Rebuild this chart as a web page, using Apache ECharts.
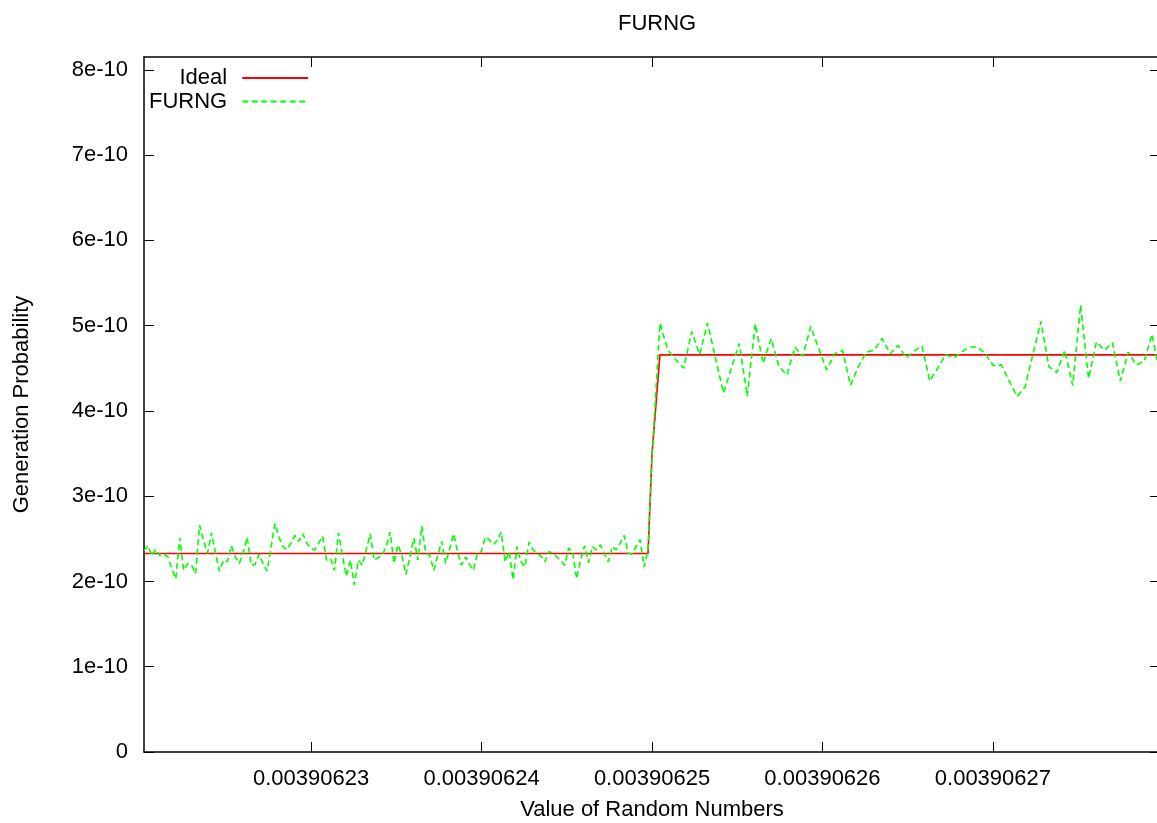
<!DOCTYPE html>
<html><head><meta charset="utf-8">
<script src="https://cdn.jsdelivr.net/npm/echarts@6/dist/echarts.min.js"></script>
<style>html,body{margin:0;padding:0;background:#fff}#c{width:1157px;height:823px}</style>
</head><body><div id="c"></div>
<script>
// ---------- data ----------
const chartTitle = 'FURNG';
const xAxisTitle = 'Value of Random Numbers';
const yAxisTitle = 'Generation Probability';
const seriesNames = ['Ideal', 'FURNG'];
const xTickValues = [0.00390623, 0.00390624, 0.00390625, 0.00390626, 0.00390627];
const yTickValues = [0, 1e-10, 2e-10, 3e-10, 4e-10, 5e-10, 6e-10, 7e-10, 8e-10];
const Y_UNIT = 1e-10;            // values below are in units of 1e-10
const Y_MAX = 8.15e-10;

// float32 grid around 1/256: below it the spacing is 2^-32, above it 2^-31
const CENTER = 1 / 256;
const ULP_LOW = Math.pow(2, -32);
const ULP_HIGH = Math.pow(2, -31);

// FURNG measured probabilities (x1e-10), 128 points below 1/256
const furngLow = [
  2.36, 2.42, 2.30, 2.38, 2.30, 2.32, 2.29, 2.15, 2.03, 2.51,
  2.13, 2.21, 2.19, 2.09, 2.66, 2.48, 2.33, 2.57, 2.34, 2.12,
  2.25, 2.23, 2.42, 2.29, 2.21, 2.34, 2.52, 2.19, 2.20, 2.32,
  2.21, 2.12, 2.40, 2.68, 2.52, 2.41, 2.37, 2.45, 2.54, 2.47,
  2.56, 2.45, 2.39, 2.37, 2.45, 2.53, 2.25, 2.27, 2.13, 2.57,
  2.30, 2.06, 2.25, 1.96, 2.25, 2.19, 2.37, 2.56, 2.25, 2.28,
  2.31, 2.40, 2.58, 2.21, 2.43, 2.30, 2.08, 2.29, 2.51, 2.25,
  2.65, 2.33, 2.31, 2.13, 2.30, 2.47, 2.21, 2.38, 2.56, 2.35,
  2.19, 2.29, 2.20, 2.13, 2.33, 2.35, 2.52, 2.49, 2.43, 2.48,
  2.58, 2.23, 2.35, 2.02, 2.41, 2.23, 2.17, 2.46, 2.37, 2.33,
  2.30, 2.23, 2.35, 2.33, 2.29, 2.24, 2.19, 2.39, 2.35, 2.03,
  2.25, 2.42, 2.22, 2.41, 2.37, 2.43, 2.33, 2.23, 2.41, 2.37,
  2.45, 2.54, 2.33, 2.32, 2.41, 2.49, 2.17, 2.37
];
// value at exactly 1/256
const furngCenter = 3.45;
// 64 points above 1/256
const furngHigh = [
  5.03, 4.71, 4.60, 4.50, 4.93, 4.66, 5.03, 4.62, 4.21, 4.50,
  4.79, 4.17, 5.02, 4.56, 4.85, 4.52, 4.42, 4.75, 4.64, 4.99,
  4.73, 4.48, 4.67, 4.71, 4.30, 4.52, 4.69, 4.71, 4.85, 4.67,
  4.77, 4.62, 4.70, 4.76, 4.35, 4.50, 4.66, 4.62, 4.69, 4.75,
  4.75, 4.67, 4.53, 4.54, 4.35, 4.17, 4.28, 4.67, 5.05, 4.52,
  4.45, 4.71, 4.30, 5.24, 4.38, 4.81, 4.71, 4.80, 4.35, 4.69,
  4.54, 4.58, 4.90, 4.40
];

// Ideal: break points only
const idealX = [
  CENTER - 128 * ULP_LOW, CENTER - ULP_LOW, CENTER, CENTER + ULP_HIGH, CENTER + 64 * ULP_HIGH
];
const idealY = [2.328, 2.328, 3.492, 4.657, 4.657];

// ---------- build ----------
const furngData = [];
furngLow.forEach((v, k) => furngData.push([CENTER - (furngLow.length - k) * ULP_LOW, v * Y_UNIT]));
furngData.push([CENTER, furngCenter * Y_UNIT]);
furngHigh.forEach((v, i) => furngData.push([CENTER + (i + 1) * ULP_HIGH, v * Y_UNIT]));
const idealData = idealX.map((x, i) => [x, idealY[i] * Y_UNIT]);

const X_MIN = idealX[0], X_MAX = idealX[idealX.length - 1];
const FONT = 'Liberation Sans';
const FS = 22;

const chart = echarts.init(document.getElementById('c'), null, {renderer: 'canvas'});
const axisLine = {show: true, onZero: false, lineStyle: {color: '#000', width: 1.5}};
const tickStyle = {color: '#000', width: 1};

chart.setOption({
  animation: false,
  backgroundColor: '#fff',
  textStyle: {fontFamily: FONT},
  title: {
    text: chartTitle, left: 613, top: 8,
    textStyle: {fontFamily: FONT, fontSize: FS, fontWeight: 'normal', color: '#000'}
  },
  legend: {
    data: seriesNames,
    orient: 'vertical',
    align: 'right',
    left: 149, top: 67,
    padding: 0,
    itemGap: 1.5,
    itemWidth: 66, itemHeight: 14,
    itemStyle: {opacity: 0},
    textStyle: {fontFamily: FONT, fontSize: FS, color: '#000', padding: [0, 10, 0, 0]}
  },
  grid: {left: 144, top: 57, right: -3, bottom: 71, outerBoundsMode: 'none', containLabel: false},
  xAxis: [{
    type: 'value', min: X_MIN, max: X_MAX, position: 'bottom',
    name: xAxisTitle, nameLocation: 'middle', nameGap: 47,
    nameTextStyle: {fontFamily: FONT, fontSize: FS, color: '#000'},
    axisLine: axisLine,
    axisTick: {show: true, inside: true, length: 10, lineStyle: tickStyle, customValues: xTickValues},
    axisLabel: {show: true, margin: 16, fontFamily: FONT, fontSize: FS, color: '#000',
      customValues: xTickValues, formatter: v => v.toFixed(8)},
    splitLine: {show: false}
  }, {
    type: 'value', min: X_MIN, max: X_MAX, position: 'top',
    axisLine: axisLine,
    axisTick: {show: true, inside: true, length: 10, lineStyle: tickStyle, customValues: xTickValues},
    axisLabel: {show: false},
    splitLine: {show: false}
  }],
  yAxis: [{
    type: 'value', min: 0, max: Y_MAX, position: 'left',
    name: yAxisTitle, nameLocation: 'middle', nameGap: 111,
    nameTextStyle: {fontFamily: FONT, fontSize: FS, color: '#000'},
    axisLine: axisLine,
    axisTick: {show: true, inside: true, length: 10, lineStyle: tickStyle, customValues: yTickValues},
    axisLabel: {show: true, margin: 16, fontFamily: FONT, fontSize: FS, color: '#000',
      customValues: yTickValues,
      formatter: v => (Math.abs(v) < 1e-20 ? '0' : Math.round(v / Y_UNIT) + 'e-10')},
    splitLine: {show: false}
  }, {
    type: 'value', min: 0, max: Y_MAX, position: 'right',
    axisLine: axisLine,
    axisTick: {show: true, inside: true, length: 10, lineStyle: tickStyle, customValues: yTickValues},
    axisLabel: {show: false},
    splitLine: {show: false}
  }],
  series: [{
    name: seriesNames[0], type: 'line', data: idealData,
    xAxisIndex: 0, yAxisIndex: 0,
    symbol: 'none', showSymbol: false,
    lineStyle: {color: '#ff0000', width: 1.6, type: 'solid'},
    itemStyle: {color: '#ff0000'}
  }, {
    name: seriesNames[1], type: 'line', data: furngData,
    xAxisIndex: 0, yAxisIndex: 0,
    symbol: 'none', showSymbol: false,
    lineStyle: {color: '#00ff00', width: 1.6, type: [6, 3.5]},
    itemStyle: {color: '#00ff00'}
  }]
});
</script></body></html>
